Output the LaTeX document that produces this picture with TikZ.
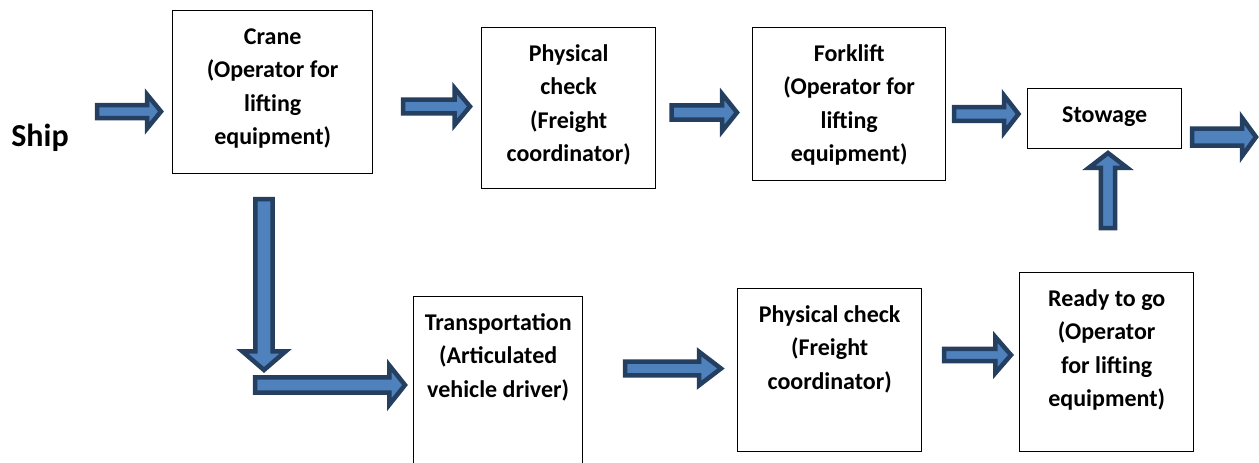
\documentclass[tikz,border=0pt]{standalone}
\usepackage{fontspec}
\setmainfont{Carlito}
\usetikzlibrary{calc}
\definecolor{flowfill}{HTML}{4F81BD}
\definecolor{flowedge}{HTML}{243F60}
\newcommand{\boxfont}{\fontsize{24}{33.5}\selectfont\bfseries}
\newcommand{\boxlines}[3]{\parbox[t][#2pt][t]{#1pt}{\centering\vspace*{10pt}\strut#3}}
\tikzset{
  box/.style={draw, line width=1.4pt, inner sep=0pt, anchor=north west, font=\boxfont},
  % block arrow: shaft half width, head half width, head length
  flow/.style n args={3}{draw=flowedge, fill=flowfill, line width=4.5pt, line join=miter,
    to path={let \p1=(\tikztostart), \p2=(\tikztotarget), \n1={atan2(\y2-\y1,\x2-\x1)} in
      ($(\p1)+({\n1+90}:#1pt)$) -- ($(\p2)+({\n1+180}:#3pt)+({\n1+90}:#1pt)$)
      -- ($(\p2)+({\n1+180}:#3pt)+({\n1+90}:#2pt)$) -- (\p2)
      -- ($(\p2)+({\n1+180}:#3pt)+({\n1-90}:#2pt)$) -- ($(\p2)+({\n1+180}:#3pt)+({\n1-90}:#1pt)$)
      -- ($(\p1)+({\n1-90}:#1pt)$) -- cycle}}
}
\begin{document}
\begin{tikzpicture}[x=1pt, y=-1pt]
\useasboundingbox (0,0) rectangle (1259,463);
% boxes
\node[font=\fontsize{32}{38}\selectfont\bfseries] (ship) at (40,138) {Ship};
\node[box] (crane) at (172,10) {\boxlines{200}{163}{Crane\\(Operator for\\lifting\\equipment)}};
\node[box] (check1) at (481,27) {\boxlines{174}{161}{Physical\\check\\(Freight\\coordinator)}};
\node[box] (fork) at (752,27) {\boxlines{193}{153}{Forklift\\(Operator for\\lifting\\equipment)}};
\node[box] (stow) at (1027,88) {\boxlines{154}{60}{Stowage}};
\node[box] (trans) at (413,296) {\boxlines{169}{190}{Transportation\\(Articulated\\vehicle driver)}};
\node[box] (check2) at (737,288) {\boxlines{184}{163}{Physical check\\(Freight\\coordinator)}};
\node[box] (ready) at (1019,272) {\boxlines{174}{179}{Ready to go\\(Operator\\for lifting\\equipment)}};
% arrow ends
\coordinate (a1) at (97,111.5);    \coordinate (b1) at (161,111.5);
\coordinate (a2) at (403,106.5);   \coordinate (b2) at (470,106.5);
\coordinate (a3) at (671.5,112.5); \coordinate (b3) at (737,112.5);
\coordinate (a4) at (954,114);     \coordinate (b4) at (1018.5,114);
\coordinate (a5) at (1192,137);    \coordinate (b5) at (1256,137);
\coordinate (a6) at (1108,228);    \coordinate (b6) at (1108,153);
\coordinate (a7) at (264,199);     \coordinate (b7) at (264,370);
\coordinate (a8) at (255,385);     \coordinate (b8) at (405,385);
\coordinate (a9) at (625,368.5);   \coordinate (b9) at (721,368.5);
\coordinate (a10) at (944,355);    \coordinate (b10) at (1011,355);
% arrows
\draw[flow={6.5}{16.8}{13.8}] (a1) to (b1);
\draw[flow={6.9}{18.5}{15.5}] (a2) to (b2);
\draw[flow={7.2}{18.5}{14.8}] (a3) to (b3);
\draw[flow={6.9}{18.6}{14.5}] (a4) to (b4);
\draw[flow={8.5}{19.2}{14}] (a5) to (b5);
\draw[flow={7.2}{19.2}{14.8}] (a6) to (b6);
\draw[flow={8.7}{21.7}{18.7}] (a7) to (b7);
\draw[flow={7.7}{19.7}{15.7}] (a8) to (b8);
\draw[flow={6.9}{16.8}{22}] (a9) to (b9);
\draw[flow={6.1}{18.1}{15.7}] (a10) to (b10);
\end{tikzpicture}
\end{document}
